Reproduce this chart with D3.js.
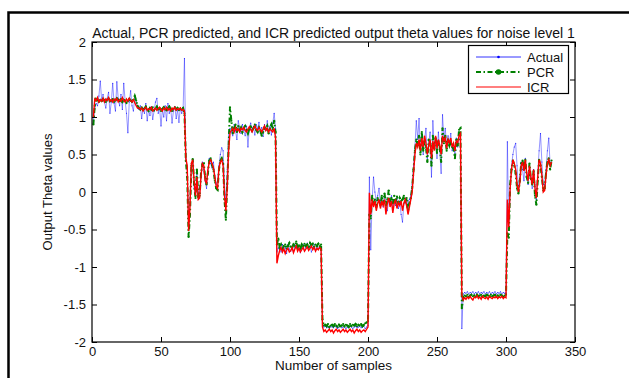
<!DOCTYPE html>
<html><head><meta charset="utf-8">
<script src="https://cdn.jsdelivr.net/npm/d3@7"></script>
<style>body{margin:0;background:#fff}svg{display:block}text{font-family:"Liberation Sans",Arial,Helvetica,sans-serif;fill:#111}</style>
</head><body><svg id="c" width="629" height="378"></svg>
<script>
const titleText = "Actual, PCR predicted, and ICR predicted output theta values for noise level 1";
const xLabel = "Number of samples";
const yLabel = "Output Theta values";
const seriesNames = ["Actual", "PCR", "ICR"];
const xTicks = [0, 50, 100, 150, 200, 250, 300, 350];
const yTicks = [-2, -1.5, -1, -0.5, 0, 0.5, 1, 1.5, 2];

const actual = [
0.95,1.10,1.18,1.15,1.28,1.48,1.22,1.30,1.20,1.12,1.25,1.33,1.05,1.20,1.45,1.18,1.08,1.47,1.25,1.15,1.30,1.10,1.45,1.22,1.05,0.79,1.20,1.35,1.15,1.08,1.27,1.20,1.12,
1.10,1.15,0.98,1.12,1.05,1.18,0.95,1.10,1.02,1.14,0.97,1.08,1.20,1.25,1.05,1.12,0.88,1.10,1.00,1.15,0.95,1.18,1.05,1.12,0.92,1.08,1.14,0.98,1.10,0.93,1.12,1.05,1.10,
1.78,0.45,0.30,-0.45,-0.10,0.30,0.42,0.05,-0.05,0.25,0.00,-0.02,0.20,0.40,0.30,0.15,0.05,0.28,0.45,0.38,0.32,0.40,0.22,0.10,0.15,0.35,0.50,0.59,0.55,0.10,-0.15,0.30,0.80,
0.85,0.80,0.75,0.90,0.82,0.70,0.95,0.85,0.78,0.90,0.82,0.75,0.88,0.60,0.85,0.92,0.80,0.88,0.76,0.90,0.84,0.93,0.78,0.86,0.74,0.90,0.82,0.95,0.80,0.88,0.76,0.92,1.05,0.85,
-0.80,-0.75,-0.72,-0.80,-0.70,-0.78,-0.74,-0.82,-0.70,-0.76,-0.79,-0.72,-0.80,-0.74,-0.69,-0.78,-0.73,-0.81,-0.75,-0.70,-0.79,-0.74,-0.68,-0.77,-0.72,-0.80,-0.74,-0.70,-0.78,-0.73,-0.76,-0.72,-0.75,
-1.75,-1.80,-1.79,-1.81,-1.80,-1.82,-1.79,-1.80,-1.81,-1.79,-1.80,-1.82,-1.80,-1.79,-1.81,-1.80,-1.79,-1.82,-1.80,-1.81,-1.79,-1.80,-1.82,-1.80,-1.79,-1.81,-1.80,-1.79,-1.81,-1.80,-1.79,-1.82,-1.80,-1.78,
0.20,-0.77,-0.10,0.20,0.00,-0.12,-0.05,0.05,-0.15,-0.08,-0.20,-0.05,-0.12,-0.25,-0.10,-0.15,-0.05,-0.20,-0.10,-0.18,-0.08,-0.22,-0.12,-0.30,-0.40,-0.15,-0.08,-0.20,-0.12,-0.10,-0.05,0.10,0.35,
0.60,0.95,0.70,0.98,0.55,0.75,0.50,0.70,0.85,0.45,0.65,0.80,0.20,0.95,0.60,0.70,0.45,0.80,0.55,0.25,1.03,0.70,0.85,0.60,0.75,0.65,0.78,0.55,0.65,0.50,0.72,0.60,0.70,0.72,
-1.82,-1.36,-1.34,-1.35,-1.33,-1.36,-1.34,-1.35,-1.33,-1.36,-1.34,-1.35,-1.33,-1.36,-1.34,-1.35,-1.33,-1.36,-1.34,-1.35,-1.33,-1.36,-1.34,-1.35,-1.33,-1.36,-1.34,-1.35,-1.33,-1.36,-1.34,-1.35,-1.34,
0.67,-0.50,0.00,0.35,0.50,0.60,0.65,0.35,0.03,0.20,0.40,0.30,0.15,0.45,0.25,0.10,0.35,0.20,0.05,0.30,0.10,-0.10,0.25,0.55,0.78,0.40,0.10,0.10,0.30,0.55,0.72,0.35,0.40
];

const pcr = [
0.90,1.15,1.24,1.22,1.20,1.23,1.21,1.24,1.22,1.20,1.23,1.25,1.21,1.22,1.24,1.20,1.22,1.25,1.23,1.21,1.24,1.20,1.23,1.22,1.19,1.21,1.24,1.22,1.20,1.23,1.28,1.22,1.15,
1.12,1.10,1.13,1.09,1.11,1.14,1.10,1.08,1.12,1.10,1.13,1.09,1.11,1.14,1.10,1.12,1.08,1.11,1.13,1.10,1.09,1.12,1.14,1.10,1.08,1.11,1.13,1.10,1.12,1.09,1.11,1.10,1.12,
1.05,0.42,0.20,-0.60,-0.30,0.35,0.44,0.10,-0.08,0.30,-0.06,-0.05,0.25,0.37,0.38,0.20,0.10,0.25,0.42,0.45,0.36,0.30,0.15,0.05,0.03,0.30,0.42,0.45,0.38,-0.10,-0.37,0.10,0.60,
1.13,0.95,0.78,0.85,0.90,0.80,0.88,0.82,0.86,0.80,0.85,0.88,0.83,0.78,0.84,0.87,0.82,0.85,0.90,0.83,0.80,0.86,0.82,0.75,0.80,0.86,0.84,0.88,0.78,0.85,0.90,0.84,0.95,0.80,
-0.70,-0.62,-0.74,-0.70,-0.76,-0.72,-0.70,-0.75,-0.72,-0.68,-0.73,-0.75,-0.70,-0.72,-0.66,-0.74,-0.71,-0.76,-0.70,-0.73,-0.69,-0.72,-0.70,-0.74,-0.68,-0.71,-0.69,-0.73,-0.70,-0.72,-0.69,-0.73,-0.70,
-1.70,-1.78,-1.77,-1.79,-1.76,-1.80,-1.78,-1.77,-1.79,-1.76,-1.78,-1.80,-1.77,-1.79,-1.78,-1.76,-1.79,-1.77,-1.78,-1.80,-1.76,-1.79,-1.77,-1.78,-1.76,-1.79,-1.77,-1.78,-1.76,-1.79,-1.77,-1.75,-1.74,-1.72,
-0.30,-0.35,-0.05,-0.15,-0.10,-0.20,-0.08,-0.12,-0.18,-0.05,-0.15,-0.02,-0.18,-0.10,0.02,-0.12,-0.08,-0.15,-0.05,-0.12,-0.06,-0.15,-0.08,-0.12,-0.10,-0.05,-0.14,-0.08,-0.25,-0.15,-0.08,0.05,0.30,
0.55,0.70,0.62,0.75,0.50,0.80,0.55,0.68,0.60,0.40,0.70,0.65,0.35,0.75,0.58,0.72,0.52,0.68,0.60,0.40,0.85,0.65,0.75,0.55,0.70,0.62,0.68,0.60,0.58,0.45,0.70,0.62,0.83,0.85,
-1.55,-1.40,-1.38,-1.39,-1.37,-1.40,-1.38,-1.37,-1.39,-1.38,-1.40,-1.37,-1.39,-1.38,-1.37,-1.40,-1.38,-1.39,-1.37,-1.38,-1.40,-1.37,-1.39,-1.38,-1.37,-1.40,-1.38,-1.39,-1.37,-1.38,-1.40,-1.38,-1.37,
-0.55,-0.61,0.10,0.30,0.42,0.35,0.25,0.05,-0.02,0.15,0.38,0.42,0.30,0.43,0.20,0.12,0.38,0.18,0.10,0.28,-0.05,-0.17,0.15,0.43,0.35,0.20,0.02,0.05,0.25,0.40,0.45,0.30,0.42
];

const icr = [
1.00,1.24,1.22,1.26,1.20,1.23,1.21,1.25,1.20,1.24,1.22,1.26,1.21,1.23,1.20,1.24,1.22,1.25,1.20,1.23,1.21,1.26,1.22,1.20,1.24,1.21,1.25,1.22,1.20,1.23,1.19,1.15,1.12,
1.12,1.10,1.12,1.08,1.11,1.13,1.09,1.11,1.10,1.13,1.08,1.10,1.12,1.09,1.11,1.13,1.10,1.08,1.12,1.10,1.13,1.09,1.11,1.08,1.12,1.10,1.13,1.09,1.11,1.10,1.12,1.09,1.10,
1.08,0.45,0.35,-0.52,-0.20,0.38,0.43,0.15,-0.05,0.20,-0.10,-0.08,0.22,0.38,0.35,0.15,0.12,0.30,0.40,0.43,0.38,0.32,0.20,0.08,0.05,0.32,0.40,0.43,0.35,-0.05,-0.25,0.05,0.55,
0.79,0.82,0.85,0.80,0.86,0.82,0.84,0.80,0.85,0.83,0.86,0.82,0.80,0.84,0.87,0.83,0.80,0.85,0.88,0.84,0.82,0.86,0.83,0.80,0.84,0.88,0.82,0.85,0.80,0.84,0.82,0.80,0.85,0.72,
-0.95,-0.85,-0.78,-0.74,-0.80,-0.76,-0.82,-0.77,-0.75,-0.80,-0.78,-0.74,-0.81,-0.76,-0.72,-0.79,-0.75,-0.80,-0.77,-0.74,-0.79,-0.76,-0.73,-0.78,-0.75,-0.72,-0.77,-0.74,-0.79,-0.75,-0.77,-0.74,-0.76,
-1.80,-1.86,-1.84,-1.87,-1.85,-1.83,-1.86,-1.84,-1.88,-1.85,-1.83,-1.86,-1.84,-1.87,-1.85,-1.83,-1.86,-1.84,-1.87,-1.85,-1.83,-1.86,-1.84,-1.88,-1.85,-1.83,-1.86,-1.84,-1.87,-1.85,-1.84,-1.86,-1.83,-1.80,
-0.01,-0.30,-0.10,-0.20,-0.12,-0.25,-0.15,-0.10,-0.22,-0.12,-0.18,-0.10,-0.30,-0.15,-0.08,-0.20,-0.12,-0.28,-0.15,-0.10,-0.22,-0.14,-0.18,-0.12,-0.25,-0.15,-0.10,-0.18,-0.30,-0.20,-0.10,0.00,0.25,
0.50,0.65,0.60,0.70,0.55,0.72,0.60,0.75,0.65,0.50,0.62,0.70,0.45,0.68,0.55,0.75,0.58,0.70,0.62,0.50,0.75,0.68,0.72,0.58,0.70,0.66,0.72,0.60,0.65,0.55,0.68,0.66,0.75,0.78,
-1.38,-1.44,-1.41,-1.43,-1.40,-1.42,-1.39,-1.42,-1.44,-1.40,-1.41,-1.38,-1.42,-1.40,-1.43,-1.39,-1.41,-1.42,-1.40,-1.43,-1.39,-1.41,-1.42,-1.40,-1.41,-1.39,-1.42,-1.40,-1.41,-1.39,-1.42,-1.40,-1.41,
-0.10,-0.47,0.05,0.30,0.43,0.38,0.30,0.10,0.00,0.12,0.35,0.40,0.28,0.43,0.25,0.15,0.35,0.20,0.10,0.30,0.05,-0.08,0.20,0.43,0.38,0.22,0.00,0.02,0.22,0.38,0.43,0.35,0.40
];

const svg = d3.select("#c");
const m = {left: 92, right: 575, top: 42, bottom: 342};

// outer figure frame
svg.append("rect").attr("x", 8.5).attr("y", 12.5).attr("width", 700).attr("height", 500)
  .attr("fill", "none").attr("stroke", "#000").attr("stroke-width", 2.5);

const x = d3.scaleLinear().domain([0, 350]).range([m.left, m.right]);
const y = d3.scaleLinear().domain([-2, 2]).range([m.bottom, m.top]);

const fmt = d => String(d);
const g = svg.append("g");

const idx = actual.map((_, i) => i + 1);
const toPts = arr => arr.map((v, i) => [idx[i], v]);
const line = d3.line().x(d => x(d[0])).y(d => y(d[1]));

g.append("path").datum(toPts(actual)).attr("d", line)
  .attr("fill", "none").attr("stroke", "#0000ff").attr("stroke-width", 0.7).attr("stroke-opacity", 0.6);
g.append("g").selectAll("circle").data(toPts(actual)).join("circle")
  .attr("cx", d => x(d[0])).attr("cy", d => y(d[1])).attr("r", 0.6).attr("fill", "#0000ff").attr("fill-opacity", 0.8);

g.append("path").datum(toPts(pcr)).attr("d", line)
  .attr("fill", "none").attr("stroke", "#008000").attr("stroke-width", 2)
  .attr("stroke-dasharray", "5,2.5,1.5,2.5");
g.append("g").selectAll("circle").data(toPts(pcr)).join("circle")
  .attr("cx", d => x(d[0])).attr("cy", d => y(d[1])).attr("r", 1.1).attr("fill", "#008000");

g.append("path").datum(toPts(icr)).attr("d", line)
  .attr("fill", "none").attr("stroke", "#ff0000").attr("stroke-width", 1.4);

// axes
const axFont = "13px";
const axLeft = svg.append("g").attr("transform", `translate(${m.left},0)`)
  .call(d3.axisLeft(y).tickValues(yTicks).tickFormat(fmt).tickSize(-5).tickPadding(6));
const axBottom = svg.append("g").attr("transform", `translate(0,${m.bottom})`)
  .call(d3.axisBottom(x).tickValues(xTicks).tickFormat(fmt).tickSize(-5).tickPadding(5));
const axTop = svg.append("g").attr("transform", `translate(0,${m.top})`)
  .call(d3.axisTop(x).tickValues(xTicks).tickFormat("").tickSize(-5));
const axRight = svg.append("g").attr("transform", `translate(${m.right},0)`)
  .call(d3.axisRight(y).tickValues(yTicks).tickFormat("").tickSize(-5));
[axLeft, axBottom, axTop, axRight].forEach(a => {
  a.select(".domain").remove();
  a.selectAll("line").attr("stroke", "#000");
  a.selectAll("text").attr("font-size", axFont).attr("font-family", null).attr("fill", "#111");
});
svg.append("rect").attr("x", m.left).attr("y", m.top).attr("width", m.right - m.left).attr("height", m.bottom - m.top)
  .attr("fill", "none").attr("stroke", "#000").attr("stroke-width", 1.2);

// labels
svg.append("text").attr("x", (m.left + m.right) / 2).attr("y", 38).attr("text-anchor", "middle")
  .attr("font-size", "14px").text(titleText);
svg.append("text").attr("x", (m.left + m.right) / 2).attr("y", 370).attr("text-anchor", "middle")
  .attr("font-size", "13.5px").text(xLabel);
svg.append("text").attr("transform", `translate(52,${(m.top + m.bottom) / 2}) rotate(-90)`).attr("text-anchor", "middle")
  .attr("font-size", "13px").text(yLabel);

// legend
const lg = svg.append("g");
lg.append("rect").attr("x", 468.5).attr("y", 45.5).attr("width", 100).attr("height", 48)
  .attr("fill", "#fff").attr("stroke", "#000").attr("stroke-width", 1.2);
const legY = [57, 72, 87];
const legStyles = [
  {c: "#0000ff", w: 0.8, dash: null, r: 1.3},
  {c: "#008000", w: 2, dash: "5,2.5,1.5,2.5", r: 2.8},
  {c: "#ff0000", w: 1.2, dash: null, r: 0}
];
seriesNames.forEach((name, i) => {
  const s = legStyles[i];
  const l = lg.append("line").attr("x1", 476).attr("x2", 521).attr("y1", legY[i]).attr("y2", legY[i])
    .attr("stroke", s.c).attr("stroke-width", s.w);
  if (s.dash) l.attr("stroke-dasharray", s.dash);
  if (s.r) lg.append("circle").attr("cx", 498.5).attr("cy", legY[i]).attr("r", s.r).attr("fill", s.c);
  lg.append("text").attr("x", 527).attr("y", legY[i] + 4.5).attr("font-size", "13px").text(name);
});
</script></body></html>
